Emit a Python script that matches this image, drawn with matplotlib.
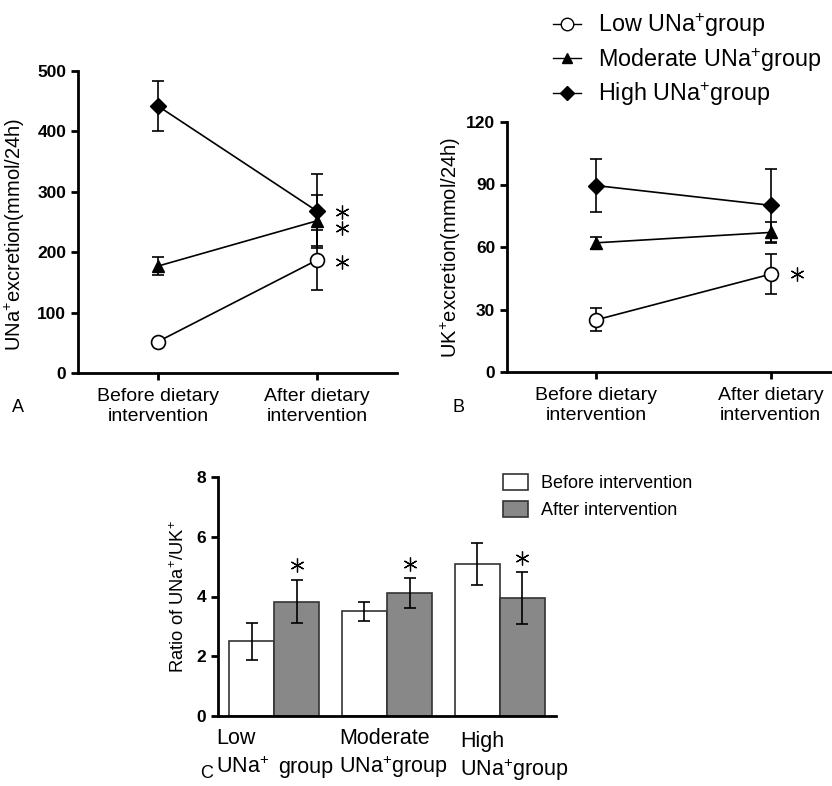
import matplotlib
matplotlib.use("Agg")
import matplotlib.pyplot as plt
from matplotlib.lines import Line2D

plt.rcParams['font.family'] = ['Liberation Sans', 'DejaVu Sans']
plt.rcParams['mathtext.fontset'] = 'custom'
plt.rcParams['mathtext.rm'] = 'Liberation Sans'

# ---- Data ----
timepoints = ["Before dietary\nintervention", "After dietary\nintervention"]
groups = ["Low UNa$^{+}$group", "Moderate UNa$^{+}$group", "High UNa$^{+}$group"]

una_low = [52, 187]
una_low_err = [0, 50]
una_mod = [177, 252]
una_mod_err = [15, 42]
una_high = [442, 268]
una_high_err = [42, 61]
una_stars = [267, 240, 184]

uk_low = [25, 47]
uk_low_err = [5.5, 9.5]
uk_mod = [62, 67]
uk_mod_err = [3, 5]
uk_high = [89.5, 80]
uk_high_err = [12.5, 17.5]
uk_stars = [47]

ratio_before = [2.5, 3.5, 5.1]
ratio_before_err = [0.62, 0.33, 0.7]
ratio_after = [3.82, 4.12, 3.95]
ratio_after_err = [0.72, 0.5, 0.87]
ratio_stars = [5.05, 5.1, 5.3]
ratio_line1 = ["Low", "Moderate", "High"]
ratio_line2 = [["UNa$^{+}$", "group"], ["UNa$^{+}$group"], ["UNa$^{+}$group"]]

W, H = 832, 786
fig = plt.figure(figsize=(W / 100, H / 100), dpi=100)


def style_axes(ax):
    for s in ['top', 'right']:
        ax.spines[s].set_visible(False)
    for s in ['left', 'bottom']:
        ax.spines[s].set_linewidth(2)
    ax.tick_params(width=2, length=5)
    for lab in ax.get_yticklabels():
        lab.set_fontweight('bold')
        lab.set_fontsize(12.5)


styles = [
    dict(marker='o', mfc='white', mec='black', ms=10, mew=1.2),
    dict(marker='^', mfc='black', mec='black', ms=8),
    dict(marker='D', mfc='black', mec='black', ms=8),
]

star_kw = dict(ls='none', marker=(6, 2, 0), ms=10, mew=0.9, color='black')


def line_panel(ax, series, errs, stars, star_x):
    x = [0, 1]
    for vals, err, st in zip(series, errs, styles):
        ax.errorbar(x, vals, yerr=err, color='black', lw=1.2, elinewidth=1.2,
                    capsize=4, capthick=1.2, **st)
    ax.plot([star_x] * len(stars), stars, **star_kw)
    ax.set_xticks(x)
    ax.set_xticklabels(timepoints, fontsize=14, linespacing=1.2)
    ax.tick_params(axis='x', pad=6)


# Panel A
axA = fig.add_axes([78 / W, 1 - 373 / H, 319 / W, 302 / H])
line_panel(axA, [una_low, una_mod, una_high],
           [una_low_err, una_mod_err, una_high_err], una_stars, 1.157)
axA.set_xlim(-0.503, 1.503)
axA.set_ylim(0, 500)
axA.set_yticks([0, 100, 200, 300, 400, 500])
axA.set_ylabel("UNa$^{+}$excretion(mmol/24h)", fontsize=14.5)
axA.yaxis.set_label_coords(-0.16, 0.46)
style_axes(axA)

# Panel B
axB = fig.add_axes([507 / W, 1 - 372 / H, 325 / W, 250 / H])
line_panel(axB, [uk_low, uk_mod, uk_high],
           [uk_low_err, uk_mod_err, uk_high_err], uk_stars, 1.149)
axB.set_xlim(-0.509, 1.35)
axB.set_ylim(0, 120)
axB.set_yticks([0, 30, 60, 90, 120])
axB.set_ylabel("UK$^{+}$excretion(mmol/24h)", fontsize=14.5)
axB.yaxis.set_label_coords(-0.135, 0.5)
style_axes(axB)

legend_styles = [
    dict(marker='o', mfc='white', mec='black', ms=9, mew=1.0),
    dict(marker='^', mfc='black', mec='black', ms=7.5),
    dict(marker='D', mfc='black', mec='black', ms=7.5),
]
handles = [Line2D([0], [0], color='black', lw=1.0, **st) for st in legend_styles]
fig.legend(handles, groups, loc='upper left', bbox_to_anchor=(532 / W, 1.013),
           frameon=False, fontsize=16.8, handlelength=1.2, handletextpad=0.75,
           labelspacing=0.3)

# Panel C
axC = fig.add_axes([218 / W, 1 - 716 / H, 338 / W, 239 / H])
xc = range(len(ratio_before))
w = 0.4
xb = [i - w / 2 for i in xc]
xa = [i + w / 2 for i in xc]
axC.bar(xb, ratio_before, width=w, color='white', edgecolor='#333333', lw=1.2,
        yerr=ratio_before_err, capsize=4, error_kw=dict(elinewidth=1.2, capthick=1.2),
        label='Before intervention')
axC.bar(xa, ratio_after, width=w, color='#888888', edgecolor='#333333', lw=1.2,
        yerr=ratio_after_err, capsize=4, error_kw=dict(elinewidth=1.2, capthick=1.2),
        label='After intervention')
axC.plot(xa, ratio_stars, **star_kw)
axC.set_xlim(-0.5, 2.5)
axC.set_ylim(0, 8)
axC.set_yticks([0, 2, 4, 6, 8])
axC.set_xticks([])
axC.set_ylabel("Ratio of UNa$^{+}$/UK$^{+}$", fontsize=13.2)
axC.yaxis.set_label_coords(-0.09, 0.5)
style_axes(axC)
axC.legend(loc='upper left', bbox_to_anchor=(0.795, 1.08), frameon=False,
           fontsize=13, handlelength=1.4, handleheight=1.0, labelspacing=0.45,
           handletextpad=0.7)

# category labels under panel C (two lines each, as in the original layout)
line1_x = [216, 339, 460]
line1_y = [738, 738, 742]
line2_pos = [[(216, 767), (278, 767)], [(339, 767)], [(460, 770)]]
for lab, x, y in zip(ratio_line1, line1_x, line1_y):
    fig.text(x / W, 1 - y / H, lab, fontsize=15.5, ha='left', va='center')
for parts, poss in zip(ratio_line2, line2_pos):
    for lab, (x, y) in zip(parts, poss):
        fig.text(x / W, 1 - y / H, lab, fontsize=15.5, ha='left', va='center')

# Panel letters
fig.text(12 / W, 1 - 408 / H, "A", fontsize=13, va='center')
fig.text(453 / W, 1 - 408 / H, "B", fontsize=13, va='center')
fig.text(200 / W, 1 - 773 / H, "C", fontsize=13, va='center')

fig.savefig("out.png", dpi=100)
